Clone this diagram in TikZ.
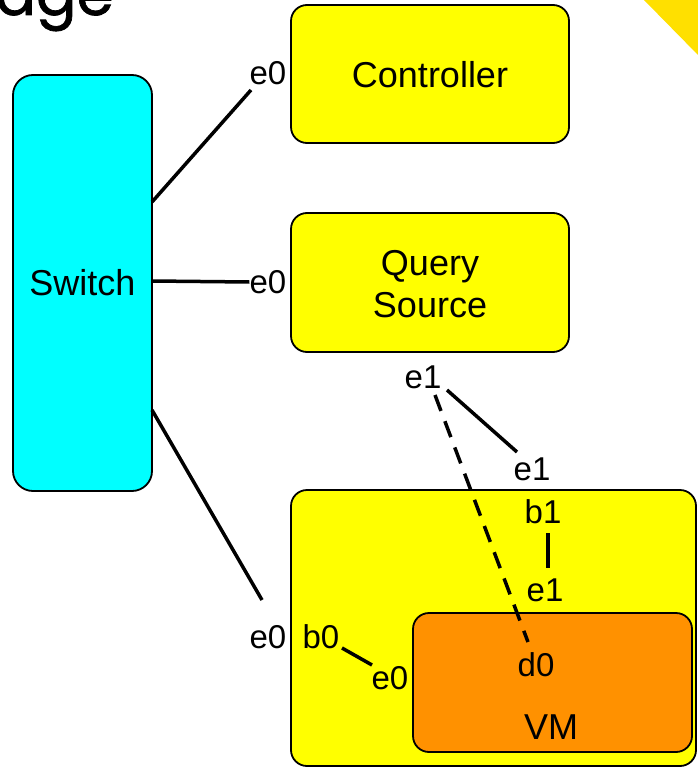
\documentclass[tikz,border=0pt]{standalone}
\usepackage{fontspec}
\setmainfont{Liberation Sans}
\newfontfamily\titlefont[FakeBold=1.2]{Poppins}
\usetikzlibrary{calc}
\definecolor{boxyellow}{RGB}{255,255,0}
\definecolor{boxcyan}{RGB}{0,255,255}
\definecolor{boxorange}{RGB}{255,145,0}
\definecolor{gold}{RGB}{255,224,0}
\tikzset{
  box/.style={draw=black, line width=1.8pt, rounded corners=16pt},
  maintext/.style={font=\fontsize{36}{42}\selectfont, align=center, inner sep=0pt},
  lbl/.style={font=\fontsize{33}{36}\selectfont, inner sep=0pt},
  link/.style={line width=3.5pt},
  dlink/.style={line width=3.5pt, dash pattern=on 17pt off 11pt},
}
\begin{document}
\begin{tikzpicture}[x=1pt, y=-1pt]
\useasboundingbox (0,0) rectangle (698,768);
\clip (0,0) rectangle (698,768);
\fill[white] (0,0) rectangle (698,768);
% partial title and decoration
\node[anchor=base east, inner sep=0pt, font=\titlefont\fontsize{60}{64}\selectfont] (title) at (114,15) {dge};
\fill[gold] (643,-1) -- (699,-1) -- (699,56) -- cycle;
% boxes
\draw[box, fill=boxcyan, rounded corners=20pt] (13,75) rectangle (152,491);
\node[maintext] (switch) at (82.5,283) {Switch};
\draw[box, fill=boxyellow] (291,5) rectangle (569,143);
\node[maintext] (controller) at (430,75) {Controller};
\draw[box, fill=boxyellow] (291,213) rectangle (569,352);
\node[maintext] (query) at (430,284) {Query\\Source};
\draw[box, fill=boxyellow] (291,490) rectangle (696,766);
\draw[box, fill=boxorange] (413,613) rectangle (692,752);
\node[lbl] (d0) at (536,665) {d0};
\node[maintext] (vm) at (551,727) {VM};
% port labels
\node[lbl] (ce0) at (268,73) {e0};
\node[lbl] (qe0) at (268,282) {e0};
\node[lbl] (se0) at (268,637) {e0};
\node[lbl] (b0) at (321,637) {b0};
\node[lbl] (ve0) at (390,678) {e0};
\node[lbl] (qe1) at (423,377) {e1};
\node[lbl] (he1) at (532,469) {e1};
\node[lbl] (b1) at (543,512) {b1};
\node[lbl] (ve1) at (545,590) {e1};
% switch attachment points
\coordinate (s1) at (152,202);
\coordinate (s2) at (152,281);
\coordinate (s3) at (152,410);
% connectors
\draw[link] (s1) -- ($(ce0)+(-17,17)$);
\draw[link] (s2) -- (qe0.west);
\draw[link] (s3) -- ($(se0)+(-6,-37)$);
\draw[link] ($(b0)+(21,11)$) -- ($(ve0)+(-18,-13)$);
\draw[link] ($(qe1)+(24,13)$) -- ($(he1)+(-15,-17)$);
\draw[link] ($(b1)+(5,21)$) -- ($(ve1)+(3,-22)$);
\draw[dlink] ($(qe1)+(12,18)$) -- ($(d0)+(-8,-23)$);
\end{tikzpicture}
\end{document}
